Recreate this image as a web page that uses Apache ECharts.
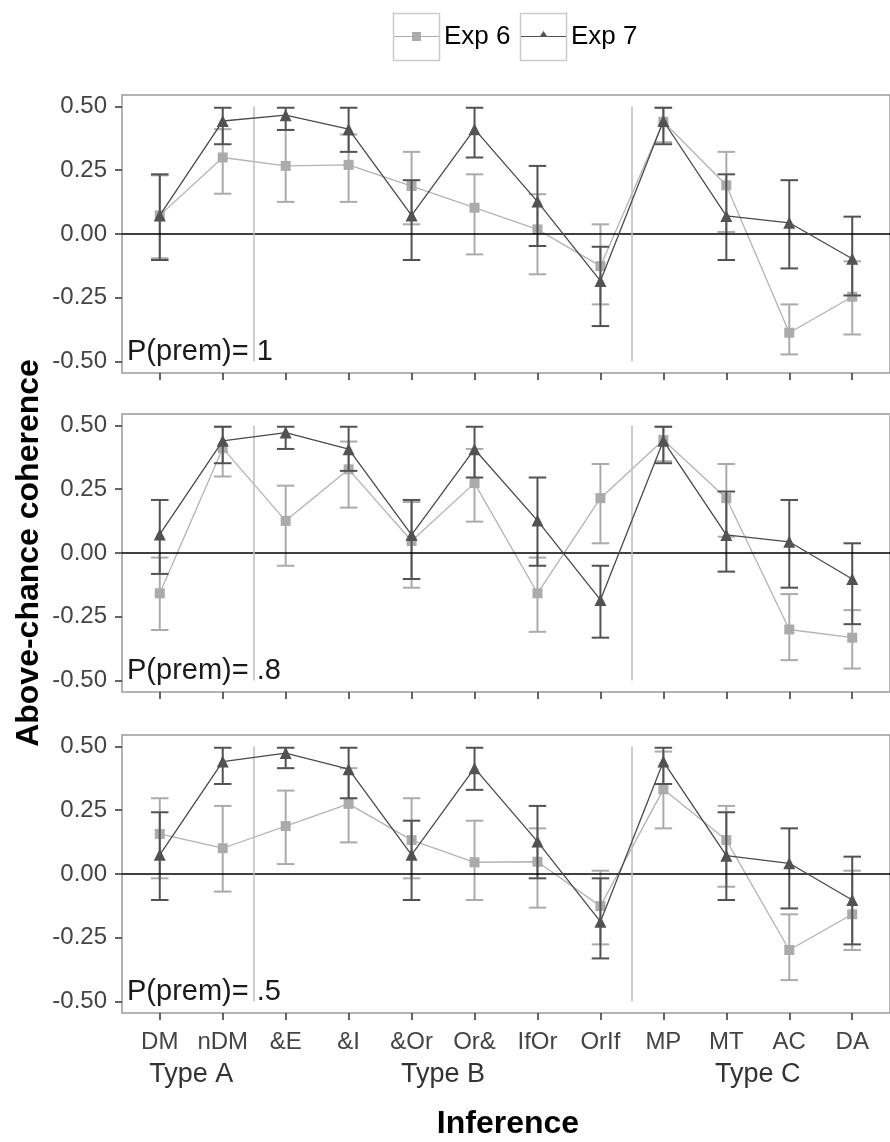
<!DOCTYPE html>
<html>
<head>
<meta charset="utf-8">
<script src="https://cdn.jsdelivr.net/npm/echarts@6.0.0/dist/echarts.min.js"></script>
<style>
  html, body { margin: 0; padding: 0; background: #fff; }
  #chart { width: 890px; height: 1142px; }
</style>
</head>
<body>
<div id="chart"></div>
<script>
// ---------------- data ----------------
const categories = ['DM', 'nDM', '&E', '&I', '&Or', 'Or&', 'IfOr', 'OrIf', 'MP', 'MT', 'AC', 'DA'];
const groups = [
  { label: 'Type A', from: 1, to: 2 },
  { label: 'Type B', from: 3, to: 8 },
  { label: 'Type C', from: 9, to: 12 }
];
const panelLabels = ['P(prem)= 1', 'P(prem)= .8', 'P(prem)= .5'];
const yTicks = [-0.5, -0.25, 0, 0.25, 0.5];
const seriesNames = ['Exp 6', 'Exp 7'];

// P(prem) = 1
const exp6_p1    = [0.073, 0.300, 0.267, 0.271, 0.188, 0.103, 0.018, -0.126, 0.440, 0.191, -0.387, -0.246];
const exp6_p1_lo = [-0.095, 0.158, 0.126, 0.126, 0.038, -0.080, -0.158, -0.276, 0.360, 0.008, -0.472, -0.394];
const exp6_p1_hi = [0.230, 0.411, 0.408, 0.390, 0.322, 0.234, 0.156, 0.038, 0.495, 0.322, -0.276, -0.107];
const exp7_p1    = [0.073, 0.443, 0.466, 0.411, 0.073, 0.411, 0.127, -0.184, 0.443, 0.071, 0.044, -0.097];
const exp7_p1_lo = [-0.102, 0.352, 0.408, 0.322, -0.102, 0.300, -0.047, -0.361, 0.352, -0.102, -0.135, -0.241];
const exp7_p1_hi = [0.234, 0.495, 0.495, 0.495, 0.211, 0.495, 0.267, -0.050, 0.495, 0.234, 0.211, 0.068];

// P(prem) = .8
const exp6_p2    = [-0.158, 0.411, 0.126, 0.328, 0.047, 0.274, -0.158, 0.215, 0.443, 0.215, -0.300, -0.332];
const exp6_p2_lo = [-0.302, 0.300, -0.050, 0.178, -0.136, 0.123, -0.309, 0.038, 0.360, 0.064, -0.420, -0.453];
const exp6_p2_hi = [-0.018, 0.495, 0.264, 0.437, 0.200, 0.408, -0.018, 0.349, 0.495, 0.349, -0.161, -0.224];
const exp7_p2    = [0.073, 0.440, 0.472, 0.407, 0.071, 0.407, 0.127, -0.184, 0.440, 0.071, 0.044, -0.102];
const exp7_p2_lo = [-0.082, 0.352, 0.408, 0.322, -0.102, 0.296, -0.050, -0.332, 0.352, -0.073, -0.136, -0.279];
const exp7_p2_hi = [0.208, 0.495, 0.495, 0.495, 0.208, 0.495, 0.296, -0.050, 0.495, 0.241, 0.208, 0.038];

// P(prem) = .5
const exp6_p3    = [0.157, 0.101, 0.188, 0.275, 0.133, 0.046, 0.048, -0.126, 0.332, 0.133, -0.298, -0.158];
const exp6_p3_lo = [-0.017, -0.069, 0.039, 0.124, -0.017, -0.102, -0.132, -0.276, 0.179, -0.050, -0.416, -0.298];
const exp6_p3_hi = [0.297, 0.267, 0.327, 0.415, 0.297, 0.209, 0.179, 0.013, 0.480, 0.267, -0.158, 0.013];
const exp7_p3    = [0.075, 0.441, 0.474, 0.411, 0.075, 0.415, 0.127, -0.187, 0.441, 0.072, 0.042, -0.102];
const exp7_p3_lo = [-0.102, 0.353, 0.415, 0.297, -0.102, 0.330, -0.017, -0.331, 0.353, -0.102, -0.135, -0.276];
const exp7_p3_hi = [0.242, 0.495, 0.495, 0.495, 0.209, 0.495, 0.267, -0.017, 0.495, 0.242, 0.179, 0.068];

// ---------------- layout / style ----------------
const FONT = '"Liberation Sans", Arial, Helvetica, sans-serif';
const GRID_LEFT = 122, GRID_W = 778, GRID_H = 278;
const gridTops = [95, 414, 735];
const COL6 = '#ababab', COL6_LINE = '#b3b3b3';
const COL7 = '#525252', COL7_LINE = '#4a4a4a';

const panels = [
  { e6: exp6_p1, e6lo: exp6_p1_lo, e6hi: exp6_p1_hi, e7: exp7_p1, e7lo: exp7_p1_lo, e7hi: exp7_p1_hi },
  { e6: exp6_p2, e6lo: exp6_p2_lo, e6hi: exp6_p2_hi, e7: exp7_p2, e7lo: exp7_p2_lo, e7hi: exp7_p2_hi },
  { e6: exp6_p3, e6lo: exp6_p3_lo, e6hi: exp6_p3_hi, e7: exp7_p3, e7lo: exp7_p3_lo, e7hi: exp7_p3_hi }
];

const xs = categories.map((c, i) => i + 1);
const groupCenters = groups.map(g => (g.from + g.to) / 2);
const separators = groups.slice(0, -1).map(g => g.to + 0.5);

function errorBarSeries(name, gi, vals, lo, hi, color, z) {
  return {
    name: name, type: 'custom', xAxisIndex: gi, yAxisIndex: gi, z: z,
    silent: true, animation: false,
    encode: { x: 0, y: [1, 2] },
    data: xs.map((x, j) => [x, lo[j], hi[j]]),
    renderItem: function (params, api) {
      const x = api.value(0);
      const pHi = api.coord([x, api.value(2)]);
      const pLo = api.coord([x, api.value(1)]);
      const w = 8.75;
      const st = { stroke: color, lineWidth: 2, fill: null };
      return {
        type: 'group',
        children: [
          { type: 'line', shape: { x1: pHi[0], y1: pHi[1], x2: pLo[0], y2: pLo[1] }, style: st },
          { type: 'line', shape: { x1: pHi[0] - w, y1: pHi[1], x2: pHi[0] + w, y2: pHi[1] }, style: st },
          { type: 'line', shape: { x1: pLo[0] - w, y1: pLo[1], x2: pLo[0] + w, y2: pLo[1] }, style: st }
        ]
      };
    }
  };
}

const grid = [], xAxis = [], yAxis = [], series = [];
panels.forEach((p, gi) => {
  grid.push({
    left: GRID_LEFT, top: gridTops[gi], width: GRID_W, height: GRID_H,
    show: true, borderColor: '#9a9a9a', borderWidth: 1.5, backgroundColor: 'transparent'
  });
  xAxis.push({
    gridIndex: gi, type: 'value', min: 0.4, max: 12.6, position: 'bottom',
    axisLine: { show: false, onZero: false },
    splitLine: { show: false },
    axisTick: { show: true, customValues: xs, length: 7, lineStyle: { color: '#333', width: 1.5 } },
    axisLabel: {
      show: gi === panels.length - 1, customValues: xs,
      formatter: v => categories[Math.round(v) - 1],
      margin: 17, fontSize: 24, color: '#444', fontFamily: FONT
    }
  });
  yAxis.push({
    gridIndex: gi, type: 'value', min: -0.545, max: 0.545,
    axisLine: { show: false, onZero: false },
    splitLine: { show: false },
    axisTick: { show: true, customValues: yTicks, length: 7, lineStyle: { color: '#333', width: 1.5 } },
    axisLabel: {
      customValues: yTicks, formatter: v => v.toFixed(2),
      margin: 15, fontSize: 24, color: '#444', fontFamily: FONT
    }
  });

  // reference lines (zero line + group separators)
  const mlData = [{ yAxis: 0, lineStyle: { color: '#000', width: 1.7, type: 'solid' } }];
  separators.forEach(s => {
    mlData.push([
      { coord: [s, 0.5], lineStyle: { color: '#bdbdbd', width: 1.5, type: 'solid' } },
      { coord: [s, -0.5] }
    ]);
  });
  series.push({
    name: 'ref' + gi, type: 'line', xAxisIndex: gi, yAxisIndex: gi, data: [], z: 1,
    silent: true, animation: false,
    markLine: { silent: true, symbol: 'none', label: { show: false }, animation: false, data: mlData }
  });

  series.push(errorBarSeries('Exp 6 CI', gi, p.e6, p.e6lo, p.e6hi, COL6, 2));
  series.push({
    name: seriesNames[0], type: 'line', xAxisIndex: gi, yAxisIndex: gi, z: 3,
    data: xs.map((x, j) => [x, p.e6[j]]),
    symbol: 'rect', symbolSize: 10, showSymbol: true, animation: false,
    lineStyle: { color: COL6_LINE, width: 1.3 },
    itemStyle: { color: COL6, borderWidth: 0 }
  });
  series.push(errorBarSeries('Exp 7 CI', gi, p.e7, p.e7lo, p.e7hi, COL7, 4));
  series.push({
    name: seriesNames[1], type: 'line', xAxisIndex: gi, yAxisIndex: gi, z: 5,
    data: xs.map((x, j) => [x, p.e7[j]]),
    symbol: 'triangle', symbolSize: 12, showSymbol: true, animation: false,
    lineStyle: { color: COL7_LINE, width: 1.3 },
    itemStyle: { color: COL7, borderWidth: 0 }
  });
});

// group (Type A/B/C) labels under the bottom panel
const lastG = panels.length - 1;
xAxis.push({
  gridIndex: lastG, type: 'value', min: 0.4, max: 12.6, position: 'bottom',
  axisLine: { show: false, onZero: false },
  splitLine: { show: false },
  axisTick: { show: false },
  axisLabel: {
    customValues: groupCenters,
    formatter: v => { const g = groups.find(gg => Math.abs((gg.from + gg.to) / 2 - v) < 1e-6); return g ? g.label : ''; },
    margin: 48, fontSize: 27, color: '#333', fontFamily: FONT
  }
});

const ICON6 = 'path://M0,4.4 L45,4.4 L45,5.6 L0,5.6 Z M18,0.5 L27,0.5 L27,9.5 L18,9.5 Z';
const ICON7 = 'path://M0,4.9 L45,4.9 L45,6.1 L0,6.1 Z M18.8,5.5 L22.5,0 L26.2,5.5 Z M22.5,11 L22.6,11 L22.55,11.01 Z';
const legendCommon = {
  top: 23.5, padding: 0, itemWidth: 45, itemHeight: 11, selectedMode: false,
  itemStyle: { borderWidth: 0 },
  textStyle: { fontSize: 26, color: '#000', fontFamily: FONT, padding: [0, 0, 0, 0] }
};

const graphic = [
  { type: 'rect', shape: { x: 393.5, y: 13.5, width: 46, height: 47 }, style: { fill: 'none', stroke: '#cccccc', lineWidth: 1.5 }, z: 0 },
  { type: 'rect', shape: { x: 520.5, y: 13.5, width: 46, height: 47 }, style: { fill: 'none', stroke: '#cccccc', lineWidth: 1.5 }, z: 0 },
  { type: 'text', x: 29, y: 553, rotation: Math.PI / 2,
    style: { text: 'Above-chance coherence', fontSize: 32, fontWeight: 'bold', fontFamily: FONT, fill: '#000', align: 'center', verticalAlign: 'middle' } },
  { type: 'text', x: 508, y: 1124,
    style: { text: 'Inference', fontSize: 32, fontWeight: 'bold', fontFamily: FONT, fill: '#000', align: 'center', verticalAlign: 'middle' } }
];
panelLabels.forEach((t, gi) => {
  graphic.push({ type: 'text', x: 127, y: gridTops[gi] + 257, z: 10,
    style: { text: t, fontSize: 29, fontFamily: FONT, fill: '#1a1a1a', align: 'left', verticalAlign: 'middle' } });
});

const option = {
  backgroundColor: '#ffffff',
  animation: false,
  textStyle: { fontFamily: FONT },
  legend: [
    Object.assign({ left: 394, data: [{ name: seriesNames[0], icon: ICON6 }] }, legendCommon),
    Object.assign({ left: 521, data: [{ name: seriesNames[1], icon: ICON7 }] }, legendCommon)
  ],
  grid: grid,
  xAxis: xAxis,
  yAxis: yAxis,
  series: series,
  graphic: graphic
};

const chart = echarts.init(document.getElementById('chart'), null, { renderer: 'canvas' });
chart.setOption(option);
</script>
</body>
</html>
